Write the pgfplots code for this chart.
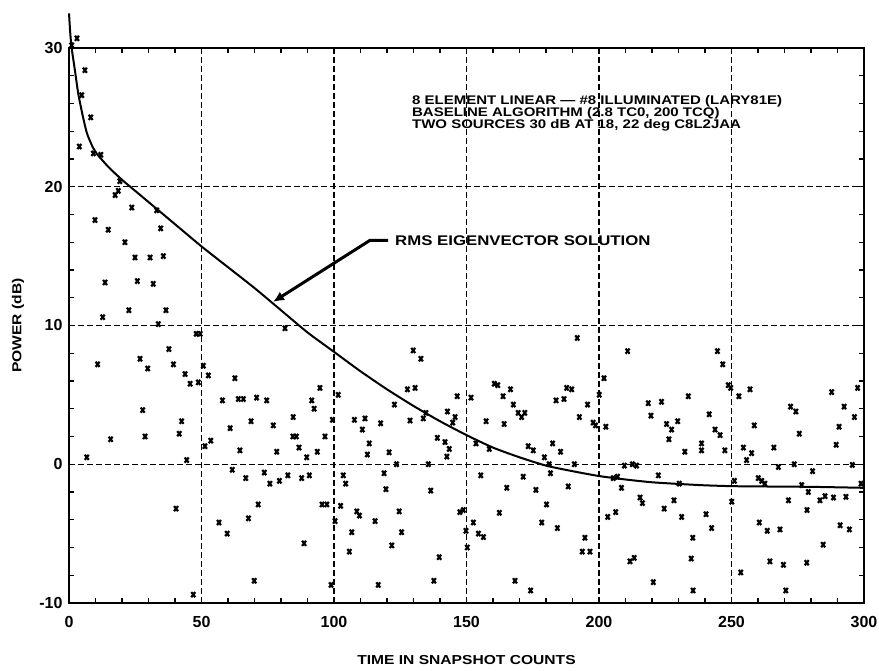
\documentclass[border=0pt]{standalone}
\usepackage{fontspec}
\setmainfont{Liberation Sans}
\newfontfamily\annfont{Liberation Sans}[FakeStretch=1.2]
\usepackage{pgfplots}
\pgfplotsset{compat=1.18}
\usetikzlibrary{arrows.meta}

\pgfplotstableread{
x y
1 30.2
3 30.7
6.0 28.4
4.8 26.6
8.2 25.0
3.9 22.9
9.2 22.4
12.0 22.3
19.2 20.4
17.4 19.4
18.6 19.7
23.7 18.5
33.1 18.3
9.8 17.6
14.8 16.9
34.6 17.0
21.1 16.0
24.9 14.9
30.6 14.9
35.6 15.0
13.6 13.1
25.8 13.2
31.8 13.0
12.7 10.6
22.6 11.1
36.6 11.1
33.7 10.1
48.0 9.4
49.5 9.4
37.7 8.3
10.8 7.2
26.8 7.6
29.7 6.9
39.4 7.2
43.8 6.5
45.7 5.8
48.8 5.9
50.7 7.1
27.8 3.9
42.5 3.1
15.7 1.8
28.7 2.0
41.6 2.2
51.3 1.3
6.7 0.5
44.4 0.3
40.4 -3.2
46.9 -9.4
52.6 6.4
62.6 6.2
57.9 4.6
63.9 4.7
65.8 4.7
70.8 4.8
74.6 4.6
94.7 5.5
91.6 4.6
92.5 4.0
101.6 5.0
84.6 3.4
68.7 3.1
60.8 2.6
77.1 2.8
99.4 3.2
107.7 3.2
111.7 3.3
110.7 2.5
84.5 2.0
85.8 2.0
96.6 2.0
53.5 1.7
64.5 1.0
78.4 0.9
86.8 1.2
89.7 0.5
93.7 0.9
113.3 1.5
112.6 0.7
61.6 -0.4
66.7 -1.0
73.7 -0.6
75.8 -1.4
79.4 -1.2
82.6 -0.8
87.8 -1.0
90.7 -0.8
103.5 -0.8
104.4 -1.4
71.4 -2.9
95.5 -2.9
97.3 -2.9
102.5 -3.0
108.6 -3.4
109.6 -3.7
67.7 -3.9
56.6 -4.2
59.7 -5.0
100.4 -4.1
106.7 -4.9
88.7 -5.7
105.8 -6.3
69.9 -8.4
98.9 -8.7
81.5 9.8
129.9 8.2
132.8 7.6
127.7 5.4
130.6 5.5
122.8 4.3
146.5 4.9
151.7 4.8
117.6 2.95
128.7 3.15
134.7 3.7
133.7 3.3
142.8 3.8
145.7 3.4
144.8 3.0
120.8 0.86
123.6 0.0
139.0 1.9
141.9 1.6
143.5 1.1
142.6 0.55
135.6 0.0
153.6 1.5
158.6 1.1
160.5 5.8
161.8 5.7
163.8 4.9
166.6 5.4
167.7 4.3
169.5 3.7
170.8 3.4
172.0 3.7
157.4 3.1
164.2 2.9
173.3 1.3
175.2 1.0
179.4 0.5
182.5 1.5
185.5 0.9
181.2 0.0
181.7 -0.65
118.9 -0.65
119.6 -1.8
136.5 -1.9
155.4 -0.8
171.4 -0.9
165.2 -1.7
176.2 -1.85
188.4 -1.6
180.2 -2.9
115.5 -4.1
124.6 -3.4
125.5 -4.9
121.8 -5.85
147.5 -3.45
148.8 -3.3
149.8 -4.8
150.3 -6.0
152.6 -4.2
154.5 -5.0
156.4 -5.25
162.4 -3.5
139.7 -6.7
116.7 -8.7
137.7 -8.4
168.3 -8.4
174.2 -9.1
178.4 -4.2
184.3 -4.6
183.8 4.6
186.8 4.7
187.8 5.5
189.7 5.4
191.8 9.1
192.6 3.4
190.7 0.0
210.8 8.15
201.9 6.2
195.7 4.3
200.1 5.0
233.7 4.9
218.6 4.4
223.6 4.5
219.6 3.5
197.8 3.0
198.7 2.8
202.6 2.7
225.5 2.9
227.4 2.5
229.7 3.1
226.4 1.8
232.4 0.9
209.6 -0.1
212.6 0.0
214.2 -0.1
222.4 -0.8
205.4 -1.0
207.0 -0.9
208.5 -1.7
230.3 -1.4
215.5 -2.4
216.4 -2.8
228.3 -2.6
224.6 -3.2
231.2 -3.8
203.3 -3.8
206.3 -3.45
194.7 -5.3
193.7 -6.3
196.6 -6.3
235.4 -5.3
234.8 -6.8
211.7 -7.0
213.3 -6.75
220.5 -8.5
235.5 -9.1
244.7 8.15
246.7 7.2
248.8 5.7
249.7 5.5
252.8 4.9
257.0 5.4
241.6 3.6
243.8 2.5
245.7 2.1
238.7 1.5
238.7 1.0
247.5 1.0
254.5 1.2
257.6 0.8
255.7 0.3
258.6 2.8
266.0 1.2
272.3 4.15
274.3 3.8
275.6 2.2
287.8 5.2
297.6 5.5
292.5 4.15
296.4 3.4
290.6 2.7
289.5 1.4
267.7 -0.2
273.7 0.0
280.6 -0.5
295.6 -0.05
251.1 -1.2
260.1 -1.0
261.4 -1.2
262.6 -1.4
276.5 -1.5
298.9 -1.4
250.1 -2.7
271.5 -2.6
279.0 -2.0
283.4 -2.6
285.3 -2.3
288.5 -2.4
293.2 -2.35
240.4 -3.6
242.5 -4.6
278.5 -3.3
260.5 -4.2
263.5 -4.8
268.3 -4.7
291.0 -4.4
294.5 -4.7
284.6 -5.8
264.5 -7.0
269.6 -7.25
278.4 -7.1
253.5 -7.8
270.5 -9.1
}\scatterdata

\pgfplotstableread{
x y
0 32.5
0.5 31.0
1 30.0
2.3 28.3
3.5 26.7
5.2 25.1
6.7 23.9
8.6 23.0
10.4 22.4
15 21.4
20 20.5
25 19.7
30 18.9
40 17.3
50 15.7
60 14.2
70 12.7
80 11.1
90 9.5
100 8.1
110 6.7
120 5.4
130 4.2
140 3.1
150 2.1
160 1.2
170 0.5
180 -0.1
190 -0.5
200 -0.85
210 -1.1
220 -1.3
230 -1.42
240 -1.52
250 -1.58
260 -1.6
280 -1.63
300 -1.7
}\curvedata

\begin{document}
\begin{tikzpicture}
\begin{axis}[
  scale only axis, width=795bp, height=555bp,
  xmin=0, xmax=300, ymin=-10, ymax=30,
  xtick={0,50,...,300}, ytick={-10,0,...,30},
  minor x tick num=4, minor y tick num=4,
  tick align=inside,
  major tick length=6bp, minor tick length=5bp,
  tick style={black, line width=1.4bp},
  axis line style={line width=2.2bp},
  grid=major,
  major grid style={black, line width=1.3bp, dash pattern=on 6bp off 3bp},
  ticklabel style={font=\fontsize{16bp}{18bp}\selectfont\bfseries},
  /pgf/number format/assume math mode=true,
  xticklabel style={yshift=-10bp},
  yticklabel style={xshift=-3bp},
  xlabel={TIME IN SNAPSHOT COUNTS}, ylabel={POWER (dB)},
  label style={font=\annfont\fontsize{13bp}{15bp}\selectfont\bfseries},
  xlabel style={at={(axis description cs:0.5,-0.103)}, anchor=center},
  ylabel style={at={(axis description cs:-0.064,0.5)}, anchor=center},
  clip=false,
]
\addplot[only marks, mark=x, mark size=2.8bp, mark options={line width=2.2bp, yscale=1.3}] table[x=x,y=y] {\scatterdata};
\addplot[black, line width=2bp, smooth, tension=0.4] table[x=x,y=y] {\curvedata};

\draw[line width=3bp, -{Latex[length=11bp,width=10bp]}] (axis cs:120.4,16.14) -- (axis cs:113.6,16.14) -- (axis cs:77.0,11.7);
\node[anchor=base west, inner sep=0, font=\annfont\fontsize{14bp}{16bp}\selectfont\bfseries] at (axis cs:123.0,15.76) {RMS EIGENVECTOR SOLUTION};

\node[anchor=base west, inner sep=0, font=\annfont\fontsize{12.5bp}{14bp}\selectfont\bfseries] at (axis cs:129.4,25.94) {8 ELEMENT LINEAR — \#8 ILLUMINATED (LARY81E)};
\node[anchor=base west, inner sep=0, font=\annfont\fontsize{12.5bp}{14bp}\selectfont\bfseries] at (axis cs:129.4,25.07) {BASELINE ALGORITHM (2.8 TC0, 200 TCQ)};
\node[anchor=base west, inner sep=0, font=\annfont\fontsize{12.5bp}{14bp}\selectfont\bfseries] at (axis cs:129.4,24.21) {TWO SOURCES 30 dB AT 18, 22 deg C8L2JAA};

\coordinate (bbl) at (rel axis cs:-0.0868,-0.1225);
\coordinate (btr) at (rel axis cs:1.0189,1.0865);
\end{axis}
\pgfresetboundingbox
\path[use as bounding box] (bbl) rectangle (btr);
\end{tikzpicture}
\end{document}
